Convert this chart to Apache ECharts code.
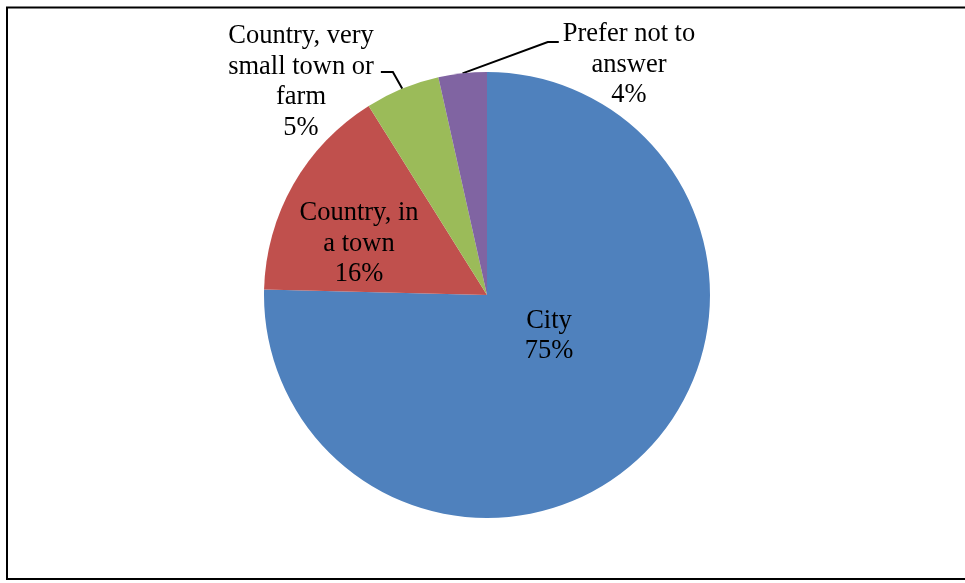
<!DOCTYPE html>
<html>
<head>
<meta charset="utf-8">
<script src="https://cdn.jsdelivr.net/npm/echarts@6/dist/echarts.min.js"></script>
<style>
	html, body { margin: 0; padding: 0; background: #fff; }
	#chartsWrap { width: 965px; height: 583px; }
</style>
</head>
<body>
<div id="chartsWrap"></div>
<script>
// slice names (line breaks as wrapped in the original) and shares in %
let categories = ['City', 'Country, in\na town', 'Country, very\nsmall town or\nfarm', 'Prefer not to\nanswer'];
let values = [75.4, 15.7, 5.4, 3.5];
let colors = ['#4F81BD', '#C0504D', '#9BBB59', '#8064A2'];

// where each label block sits (centre) and how its leader line bends
let labelPos = [[549, 336], [359, 244], [301, 82], [629, 65]];
let leader = [null, null, {side: 'right', dy: -10, gap: 7, arm: 12}, {side: 'left', dy: -23, gap: 4, arm: 11}];

let chart = echarts.init(document.getElementById('chartsWrap'));

let seriesData = [];
categories.map((item, index) => {
	seriesData.push({
		name: item,
		value: values[index],
		itemStyle: { color: colors[index] },
		label: { position: leader[index] ? 'outside' : 'inside' },
		labelLine: { show: leader[index] ? true : false }
	});
});

let option = {
	animation: false,
	graphic: [{
		type: 'rect',
		shape: { x: 7, y: 7.5, width: 975, height: 571.5 },
		style: { fill: 'none', stroke: '#000', lineWidth: 2 },
		silent: true
	}],
	series: [{
		type: 'pie',
		center: [487, 295],
		radius: 223,
		startAngle: 90,
		clockwise: true,
		avoidLabelOverlap: false,
		data: seriesData,
		label: {
			show: true,
			color: '#000',
			fontFamily: 'Liberation Serif',
			fontSize: 26.5,
			lineHeight: 30.5,
			formatter: function(p) {
				return p.name + '\n' + Math.round(p.percent) + '%';
			}
		},
		labelLine: {
			length: 10,
			length2: 10,
			lineStyle: { color: '#000', width: 2 }
		},
		labelLayout: function(params) {
			let i = params.dataIndex;
			let pos = labelPos[i];
			let res = { x: pos[0], y: pos[1], align: 'center', verticalAlign: 'middle' };
			let l = leader[i];
			if (l && params.labelLinePoints) {
				let w = params.labelRect.width;
				let ey = pos[1] + l.dy;
				let ex = l.side === 'right' ? pos[0] + w / 2 + l.gap : pos[0] - w / 2 - l.gap;
				let bx = l.side === 'right' ? ex + l.arm : ex - l.arm;
				res.labelLinePoints = [params.labelLinePoints[0], [bx, ey], [ex, ey]];
			}
			return res;
		}
	}]
};
chart.setOption(option);
</script>
</body>
</html>
